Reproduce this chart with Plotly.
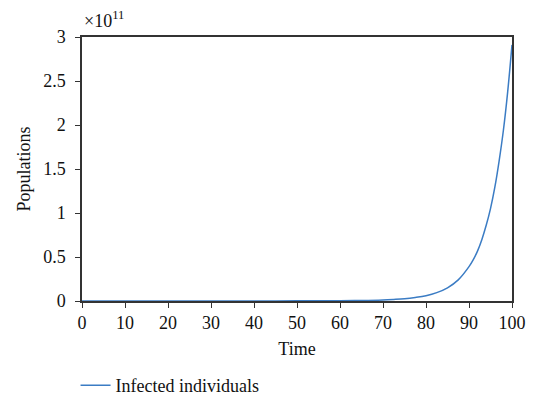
import plotly.graph_objects as go

# Time points and infected population
time = [0, 10, 20, 30, 40, 50, 60, 65, 70, 72.5, 75, 77.5, 80, 82.5, 85, 87.5,
        90, 91, 92, 93, 94, 95, 96, 97, 98, 99, 100]
infected = [0, 0.00002e11, 0.00006e11, 0.0002e11, 0.0006e11, 0.0015e11, 0.003e11,
            0.006e11, 0.012e11, 0.018e11, 0.026e11, 0.04e11, 0.06e11, 0.095e11,
            0.15e11, 0.24e11, 0.39e11, 0.47e11, 0.57e11, 0.70e11, 0.86e11,
            1.05e11, 1.29e11, 1.59e11, 1.94e11, 2.38e11, 2.91e11]

x_ticks = [0, 10, 20, 30, 40, 50, 60, 70, 80, 90, 100]
y_tick_vals = [0, 0.5e11, 1e11, 1.5e11, 2e11, 2.5e11, 3e11]
y_tick_text = ["0", "0.5", "1", "1.5", "2", "2.5", "3"]

FONT = "Liberation Serif, Times New Roman, serif"
AX = "#333333"
FS = 18

fig = go.Figure()
fig.add_trace(go.Scatter(x=time, y=infected, mode="lines", name="Infected individuals",
                         line=dict(color="#3b7cc4", width=1.5, shape="spline")))

fig.update_layout(
    width=543, height=400,
    margin=dict(l=74, r=39, t=29, b=107, autoexpand=False),
    paper_bgcolor="white", plot_bgcolor="white",
    font=dict(family=FONT, size=FS, color="#111111"),
    showlegend=True,
    legend=dict(orientation="h", x=-0.015, xanchor="left", y=-0.32, yanchor="middle",
                font=dict(family=FONT, size=FS, color="#111111"), bgcolor="rgba(0,0,0,0)"),
    xaxis=dict(range=[0, 100], tickvals=x_ticks, ticks="outside", ticklen=5, tickcolor=AX,
               showline=True, linecolor=AX, linewidth=1.5, mirror=True, showgrid=False,
               zeroline=False, automargin=False,
               title=dict(text="Time", standoff=10, font=dict(family=FONT, size=FS))),
    yaxis=dict(range=[0, 3e11], tickvals=y_tick_vals, ticktext=y_tick_text, ticks="outside",
               ticklen=5, tickcolor=AX, showline=True, linecolor=AX, linewidth=1.5,
               mirror=True, showgrid=False, zeroline=False, automargin=False,
               ticklabelstandoff=6,
               title=dict(text="Populations", standoff=8, font=dict(family=FONT, size=FS))),
    annotations=[dict(text="×10<sup>11</sup>", x=0, y=1.0, xref="paper", yref="paper",
                      xanchor="left", yanchor="bottom", showarrow=False, yshift=4,
                      font=dict(family=FONT, size=FS, color="#111111"))],
)

fig.write_html("out.html")
